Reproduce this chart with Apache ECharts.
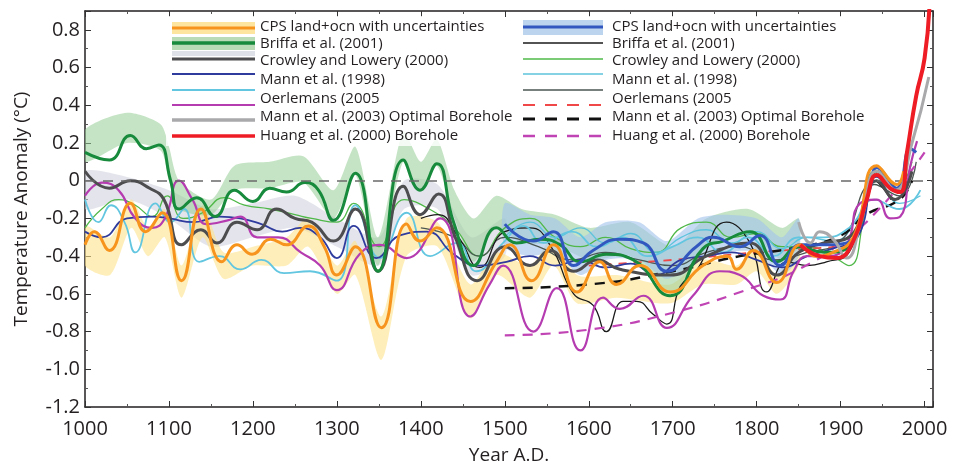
<!DOCTYPE html>
<html><head><meta charset="utf-8">
<script src="https://cdn.jsdelivr.net/npm/echarts@6/dist/echarts.min.js"></script>
<style>html,body{margin:0;padding:0;background:#fff}#c{width:962px;height:470px}</style>
</head><body><div id="c"></div>
<script>
// ---------- data (year, value) ----------
const cpsOrange = [[1000,-0.34],[1011,-0.27],[1029,-0.37],[1054,-0.12],[1072,-0.27],[1092,-0.17],[1115,-0.53],[1138,-0.15],[1163,-0.43],[1181,-0.34],[1199,-0.39],[1221,-0.31],[1240,-0.34],[1266,-0.24],[1285,-0.35],[1300,-0.5],[1322,-0.35],[1353,-0.78],[1383,-0.23],[1399,-0.32],[1419,-0.25],[1459,-0.64],[1490,-0.43],[1506,-0.34],[1532,-0.53],[1558,-0.34],[1586,-0.59],[1613,-0.43],[1633,-0.55],[1661,-0.45],[1697,-0.59],[1736,-0.45],[1765,-0.4],[1776,-0.47],[1796,-0.37],[1824,-0.54],[1852,-0.34],[1870,-0.4],[1891,-0.38],[1915,-0.3],[1943,0.08],[1967,-0.02],[1975,0.05]];
const briffaThick = [[1000,0.15],[1029,0.11],[1054,0.24],[1073,0.17],[1088,0.19],[1102,0.0],[1112,-0.15],[1133,-0.09],[1155,-0.19],[1178,-0.05],[1200,-0.11],[1220,-0.04],[1240,-0.06],[1262,-0.01],[1278,-0.05],[1296,-0.21],[1322,0.04],[1349,-0.48],[1379,0.11],[1399,-0.05],[1419,0.09],[1439,-0.22],[1463,-0.45],[1490,-0.25],[1514,-0.33],[1542,-0.31],[1566,-0.34],[1590,-0.43],[1621,-0.39],[1653,-0.42],[1697,-0.61],[1736,-0.36],[1760,-0.32],[1792,-0.27],[1824,-0.43],[1850,-0.35],[1880,-0.38],[1910,-0.35],[1943,0.05],[1965,-0.05],[1975,0.02]];
const crowleyThick = [[1000,0.05],[1029,-0.04],[1054,0.0],[1077,-0.04],[1094,-0.1],[1115,-0.34],[1138,-0.26],[1157,-0.33],[1181,-0.22],[1205,-0.26],[1228,-0.15],[1250,-0.2],[1270,-0.22],[1296,-0.32],[1322,-0.15],[1349,-0.48],[1379,-0.03],[1399,-0.18],[1421,-0.07],[1441,-0.3],[1467,-0.53],[1500,-0.35],[1530,-0.45],[1554,-0.37],[1582,-0.48],[1610,-0.42],[1637,-0.47],[1697,-0.5],[1740,-0.4],[1792,-0.33],[1824,-0.5],[1850,-0.38],[1880,-0.33],[1910,-0.3],[1943,0.0],[1965,-0.1],[1985,0.05]];
const mann98Navy = [[1000,-0.27],[1020,-0.3],[1050,-0.2],[1080,-0.19],[1100,-0.2],[1130,-0.22],[1160,-0.19],[1185,-0.2],[1210,-0.23],[1235,-0.27],[1256,-0.25],[1280,-0.3],[1300,-0.41],[1320,-0.24],[1347,-0.41],[1375,-0.29],[1407,-0.27],[1439,-0.39],[1470,-0.45],[1502,-0.43],[1530,-0.4],[1560,-0.45],[1590,-0.42],[1620,-0.46],[1650,-0.44],[1680,-0.5],[1710,-0.42],[1740,-0.4],[1770,-0.38],[1800,-0.42],[1830,-0.46],[1860,-0.4],[1890,-0.36],[1920,-0.3],[1943,0.02],[1965,-0.05],[1980,0.0]];
const cyanThick = [[1000,-0.1],[1016,-0.22],[1031,-0.13],[1047,-0.22],[1060,-0.38],[1084,-0.12],[1102,-0.22],[1118,-0.15],[1136,-0.43],[1160,-0.4],[1185,-0.47],[1210,-0.42],[1237,-0.49],[1268,-0.48],[1300,-0.53],[1322,-0.13],[1351,-0.41],[1383,-0.17],[1411,-0.4],[1443,-0.33],[1466,-0.48],[1498,-0.33],[1522,-0.24],[1546,-0.33],[1580,-0.27],[1610,-0.35],[1640,-0.3],[1670,-0.4],[1700,-0.35],[1730,-0.3],[1760,-0.38],[1790,-0.3],[1820,-0.4],[1850,-0.3],[1880,-0.3],[1910,-0.25],[1940,-0.1],[1970,-0.15],[1995,-0.05]];
const oerlemansMag = [[1000,-0.08],[1020,-0.01],[1040,-0.05],[1060,-0.2],[1080,-0.25],[1095,-0.2],[1112,0.0],[1128,-0.1],[1145,-0.23],[1170,-0.21],[1185,-0.19],[1205,-0.3],[1230,-0.3],[1257,-0.38],[1280,-0.45],[1300,-0.58],[1327,-0.39],[1351,-0.34],[1383,-0.41],[1423,-0.2],[1459,-0.72],[1482,-0.55],[1498,-0.45],[1534,-0.8],[1562,-0.57],[1590,-0.9],[1617,-0.62],[1637,-0.68],[1665,-0.61],[1693,-0.78],[1724,-0.61],[1756,-0.48],[1780,-0.5],[1808,-0.61],[1828,-0.63],[1844,-0.48],[1860,-0.4],[1885,-0.4],[1907,-0.34],[1923,-0.12],[1943,-0.1],[1959,-0.2],[1971,-0.19],[1983,0.08],[1991,0.21]];
const mann03Gray = [[1850,-0.22],[1864,-0.33],[1875,-0.27],[1891,-0.31],[1907,-0.41],[1925,-0.2],[1943,0.05],[1965,-0.05],[1985,0.2],[2005,0.55]];
const huangRed = [[1852,-0.34],[1875,-0.4],[1895,-0.41],[1915,-0.32],[1931,-0.1],[1943,0.03],[1959,-0.04],[1971,-0.06],[1979,0.15],[1990,0.45],[2000,0.65],[2006,0.95]];
const cpsBlue = [[1500,-0.23],[1534,-0.32],[1558,-0.27],[1582,-0.45],[1605,-0.37],[1637,-0.31],[1665,-0.33],[1693,-0.48],[1728,-0.35],[1748,-0.3],[1780,-0.35],[1804,-0.29],[1828,-0.45],[1852,-0.34],[1883,-0.34],[1907,-0.33],[1935,-0.04],[1943,0.07],[1967,-0.04],[1983,0.17],[1990,0.15]];
const briffaThin = [[1400,-0.2],[1420,-0.18],[1445,-0.3],[1470,-0.46],[1500,-0.27],[1530,-0.25],[1555,-0.35],[1582,-0.6],[1605,-0.66],[1621,-0.8],[1641,-0.64],[1657,-0.64],[1677,-0.71],[1693,-0.76],[1709,-0.56],[1728,-0.48],[1764,-0.22],[1792,-0.33],[1812,-0.59],[1836,-0.43],[1860,-0.45],[1883,-0.43],[1910,-0.38],[1940,0.0],[1960,-0.1]];
const crowleyThin = [[1000,-0.25],[1020,-0.15],[1040,-0.1],[1060,-0.13],[1080,-0.19],[1098,-0.08],[1117,-0.2],[1140,-0.17],[1166,-0.09],[1190,-0.13],[1220,-0.15],[1250,-0.18],[1270,-0.2],[1300,-0.22],[1320,-0.12],[1350,-0.35],[1380,-0.1],[1410,-0.15],[1440,-0.25],[1470,-0.4],[1500,-0.25],[1530,-0.2],[1560,-0.3],[1590,-0.35],[1620,-0.3],[1650,-0.36],[1680,-0.38],[1710,-0.25],[1740,-0.22],[1770,-0.3],[1800,-0.28],[1830,-0.35],[1860,-0.35],[1890,-0.4],[1910,-0.45],[1930,-0.15],[1945,0.05],[1965,-0.05],[1985,0.1]];
const mannThinCyan = [[1500,-0.3],[1530,-0.22],[1560,-0.3],[1590,-0.25],[1620,-0.33],[1650,-0.28],[1680,-0.38],[1710,-0.3],[1740,-0.26],[1770,-0.33],[1800,-0.27],[1830,-0.36],[1860,-0.3],[1890,-0.32],[1920,-0.2],[1945,0.0],[1970,-0.12],[1995,-0.08]];
const mannThinGray = [[1400,-0.25],[1440,-0.3],[1470,-0.4],[1500,-0.3],[1540,-0.35],[1580,-0.42],[1620,-0.38],[1660,-0.42],[1700,-0.45],[1740,-0.38],[1780,-0.35],[1820,-0.42],[1860,-0.38],[1900,-0.32],[1940,-0.02],[1970,-0.08],[1990,0.1]];
const oerlemansDash = [[1600,-0.45],[1700,-0.42],[1800,-0.38],[1900,-0.35]];
const mann03Dash = [[1500,-0.57],[1600,-0.55],[1700,-0.48],[1780,-0.4],[1840,-0.36],[1900,-0.29],[1930,-0.18],[1970,-0.1],[1985,0.0]];
const huangDash = [[1500,-0.82],[1600,-0.79],[1700,-0.7],[1800,-0.56],[1850,-0.47],[1900,-0.33],[1950,-0.13],[2000,0.15]];

// uncertainty bands: [year, low, high]
const bandYellow = [[1000,-0.45,-0.24],[1030,-0.5,-0.3],[1055,-0.25,-0.1],[1075,-0.4,-0.25],[1095,-0.3,-0.15],[1115,-0.62,-0.45],[1140,-0.3,-0.13],[1165,-0.52,-0.38],[1200,-0.45,-0.35],[1240,-0.45,-0.3],[1266,-0.35,-0.2],[1300,-0.6,-0.45],[1322,-0.5,-0.32],[1353,-0.95,-0.72],[1383,-0.4,-0.2],[1420,-0.35,-0.22],[1459,-0.73,-0.55],[1490,-0.5,-0.38],[1530,-0.62,-0.45],[1558,-0.45,-0.3],[1586,-0.65,-0.5],[1633,-0.62,-0.5],[1697,-0.65,-0.55],[1736,-0.55,-0.42],[1776,-0.55,-0.45],[1800,-0.48,-0.35],[1824,-0.6,-0.5],[1850,-0.45,-0.33]];
const bandGreen = [[1000,0.1,0.27],[1050,0.2,0.36],[1090,0.16,0.3],[1100,0.0,0.18],[1112,-0.15,0.0],[1150,-0.18,-0.1],[1178,-0.05,0.08],[1220,-0.04,0.1],[1260,-0.01,0.13],[1296,-0.2,-0.05],[1322,0.03,0.18],[1349,-0.45,-0.3],[1379,0.1,0.26],[1400,-0.05,0.1],[1419,0.08,0.22],[1440,-0.2,-0.05],[1463,-0.43,-0.2],[1490,-0.25,-0.08],[1520,-0.33,-0.15],[1560,-0.34,-0.18],[1600,-0.42,-0.25],[1650,-0.4,-0.22],[1700,-0.6,-0.35],[1740,-0.36,-0.2],[1790,-0.27,-0.15],[1830,-0.42,-0.25],[1850,-0.35,-0.2]];
const bandGray = [[1000,-0.15,0.05],[1050,-0.1,0.02],[1100,-0.2,-0.05],[1150,-0.35,-0.15],[1200,-0.3,-0.12],[1250,-0.25,-0.08],[1300,-0.35,-0.2],[1350,-0.45,-0.3],[1380,-0.15,0.0],[1420,-0.15,-0.02],[1460,-0.5,-0.3],[1500,-0.4,-0.2]];
const bandBlue = [[1500,-0.35,-0.12],[1530,-0.4,-0.18],[1560,-0.38,-0.2],[1590,-0.5,-0.3],[1620,-0.42,-0.22],[1660,-0.42,-0.22],[1693,-0.52,-0.32],[1730,-0.42,-0.2],[1760,-0.38,-0.18],[1800,-0.38,-0.2],[1830,-0.5,-0.3],[1850,-0.4,-0.2]];

const legendLeft = ['CPS land+ocn with uncertainties','Briffa et al. (2001)','Crowley and Lowery (2000)','Mann et al. (1998)','Oerlemans (2005','Mann et al. (2003) Optimal Borehole','Huang et al. (2000) Borehole'];
const legendRight = legendLeft.slice();

// ---------- build ----------
const series = [];
function band(name, rows, color){
  series.push({type:'custom', name:name, data:rows, encode:{x:0, y:[1,2]}, clip:true, silent:true, z:1,
    renderItem:function(params, api){
      if (params.dataIndex !== 0) return null;
      const top = rows.map(r=>api.coord([r[0], r[2]]));
      const bot = rows.map(r=>api.coord([r[0], r[1]])).reverse();
      return {type:'polygon', shape:{points: top.concat(bot), smooth:0.25}, style:{fill:color}};
    }});
}
function line(name, data, color, width, type, z){
  series.push({type:'line', name:name, data:data, smooth:0.5, symbol:'none', lineStyle:{color:color, width:width, type:type||'solid'}, z:z||2, silent:true});
  return series[series.length-1];
}
band('gray', bandGray, 'rgba(205,208,220,0.55)');
band('yellow', bandYellow, 'rgba(253,226,140,0.6)');
band('green', bandGreen, 'rgba(150,205,150,0.55)');
band('blue', bandBlue, 'rgba(160,195,235,0.6)');

const first = line('crowleyThin', crowleyThin, '#4fb848', 1.3);
first.markLine = {silent:true, symbol:'none', label:{show:false}, lineStyle:{color:'#6a6a6a', width:1.5, type:[10,8]}, data:[{yAxis:0}]};
line('mannThinCyan', mannThinCyan, '#5cc3dc', 1.3);
line('mannThinGray', mannThinGray, '#4a5652', 1.3);
line('briffaThin', briffaThin, '#1a1a1a', 1.3);
line('oerlemansDash', oerlemansDash, '#f04848', 1.8, [8,7]);
line('mann03Dash', mann03Dash, '#111111', 2.5, [10,8]);
line('huangDash', huangDash, '#c044b4', 2.2, [10,8]);
line('cyanThick', cyanThick, '#62c6e0', 1.8, null, 3);
line('mann98Navy', mann98Navy, '#2f3c9e', 1.8, null, 3);
line('oerlemansMag', oerlemansMag, '#b53bb0', 2.2, null, 3);
line('crowleyThick', crowleyThick, '#4d4d4f', 3, null, 4);
line('briffaThick', briffaThick, '#178a3c', 3, null, 4);
line('cpsBlue', cpsBlue, '#3258c0', 3, null, 5);
line('cpsOrange', cpsOrange, '#f7941d', 3, null, 5);
line('mann03Gray', mann03Gray, '#a9a9ab', 3, null, 5);
line('huangRed', huangRed, '#ee1c24', 4, null, 6);

// legend graphics
const FONT = '"Open Sans", sans-serif';
const txtY = [27, 44, 61, 80, 99, 117, 136];
const g = [];
function gl(x1,x2,y,color,w,dash){ g.push({type:'line', shape:{x1:x1,y1:y,x2:x2,y2:y}, style:{stroke:color, lineWidth:w, lineDash:dash||null}, z:100}); }
function gr(x1,x2,y1,y2,color){ g.push({type:'rect', shape:{x:x1,y:y1,width:x2-x1,height:y2-y1}, style:{fill:color}, z:99}); }
function gt(x,y,t){ g.push({type:'text', x:x, y:y, style:{text:t, font:'15px '+FONT, fill:'#231f20', verticalAlign:'middle'}, z:101}); }
gr(166,500,16,146,'rgba(255,255,255,0.8)');
gr(518,880,16,146,'rgba(255,255,255,0.8)');
// left column swatches
gr(172,255,22,34,'#fde5a0'); gl(172,255,28,'#f7941d',3);
gr(172,255,37,50,'#b9dcb7'); gl(172,255,43,'#178a3c',3.5);
gr(172,255,51,56,'#dfe1e8'); gl(172,255,59,'#4d4d4f',3);
gl(172,255,74,'#2f3c9e',2);
gl(172,255,90,'#62c6e0',2);
gl(172,255,105,'#b53bb0',2);
gl(172,255,120,'#a9a9ab',3.5);
gl(172,255,136,'#ee1c24',3.5);
// right column swatches
gr(523,603,20,35,'#bcd4ee'); gl(523,603,27,'#3258c0',3);
gl(523,603,43,'#1a1a1a',1.5);
gl(523,603,59,'#4fb848',1.5);
gl(523,603,74,'#5cc3dc',1.5);
gl(523,603,90,'#4a5652',1.5);
gl(523,603,105,'#f04848',2,[12,10]);
gl(523,603,119,'#111111',3,[12,10]);
gl(523,603,136,'#c044b4',2.5,[12,10]);
legendLeft.forEach((t,i)=>gt(260, txtY[i], t));
legendRight.forEach((t,i)=>gt(612, txtY[i], t));

const axisCommon = {axisLine:{onZero:false, lineStyle:{color:'#231f20', width:1.5}}, axisTick:{inside:true, length:6, lineStyle:{color:'#333'}}, minorTick:{show:true, splitNumber:2, length:3, lineStyle:{color:'#555'}}, splitLine:{show:false}};
const chart = echarts.init(document.getElementById('c'), null, {renderer:'canvas'});
chart.setOption({
  animation:false,
  backgroundColor:'#fff',
  grid:{left:85, top:11, width:848, height:398},
  xAxis:[
    Object.assign({type:'value', min:1000, max:2010, interval:100, position:'bottom', name:'Year A.D.', nameLocation:'middle', nameGap:39,
      nameTextStyle:{fontFamily:FONT, fontSize:19, color:'#231f20'},
      axisLabel:{fontFamily:FONT, fontSize:20, color:'#231f20', margin:12, formatter:v=> (v%100===0? String(v):'')}}, axisCommon),
    Object.assign({type:'value', min:1000, max:2010, interval:100, position:'top', axisLabel:{show:false}}, axisCommon)
  ],
  yAxis:[
    Object.assign({type:'value', min:-1.2, max:0.9, interval:0.2, position:'left', name:'Temperature Anomaly (°C)', nameLocation:'middle', nameGap:54,
      nameTextStyle:{fontFamily:FONT, fontSize:19, color:'#231f20'},
      axisLabel:{fontFamily:FONT, fontSize:20, color:'#231f20', margin:5, formatter:v=>{ if (Math.abs(v-0.9)<1e-6) return ''; if (Math.abs(v)<1e-9) return '0'; return v.toFixed(1);} }}, axisCommon),
    Object.assign({type:'value', min:-1.2, max:0.9, interval:0.2, position:'right', axisLabel:{show:false}}, axisCommon)
  ],
  series: series,
  graphic: g
});
</script></body></html>
